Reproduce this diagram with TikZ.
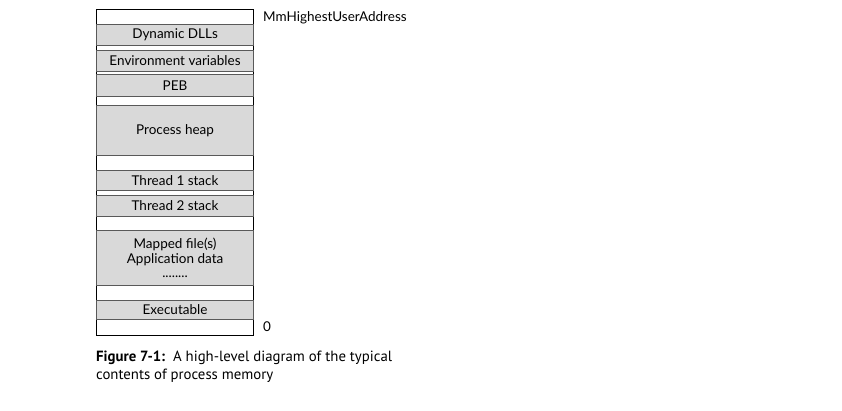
\documentclass[tikz,border=0pt]{standalone}
\usepackage{fontspec}
\usepackage{tikz}
\usetikzlibrary{positioning}
\setmainfont{Lato}
\newfontfamily\capfont{PT Sans}

\begin{document}
\begin{tikzpicture}[x=1pt, y=-1pt,
    space/.style={rectangle, draw=black, line width=0.9pt, minimum width=157pt, inner sep=0pt, anchor=north west},
    region/.style={rectangle, draw=black!65, line width=1.1pt, fill=black!15, minimum width=157pt, inner sep=0pt, align=center, anchor=north west, font=\fontsize{13.5pt}{14.5pt}\selectfont},
    addr/.style={anchor=west, inner sep=0pt, font=\fontsize{13.5pt}{15pt}\selectfont}
]
    \useasboundingbox (0,0) rectangle (842,411);
    \node[space, minimum height=326pt] (vspace) at (96,9) {};

    \node[region, minimum height=21pt] (dlls) at (96,24) {Dynamic DLLs};
    \node[region, minimum height=21pt] (env) at (96,50) {Environment variables};
    \node[region, minimum height=22pt] (peb) at (96,74) {PEB};
    \node[region, minimum height=50pt] (heap) at (96,105) {Process heap};
    \node[region, minimum height=20pt] (stack1) at (96,170) {Thread 1 stack};
    \node[region, minimum height=21pt] (stack2) at (96,195) {Thread 2 stack};
    \node[region, minimum height=55pt] (mapped) at (96,230) {Mapped file(s)\\Application data\\........};
    \node[region, minimum height=19pt] (exe) at (96,300) {Executable};

    \node[addr] (top) at (263,17.5) {MmHighestUserAddress};
    \node[addr] (bottom) at (263,327) {0};

    \node[anchor=north west, inner sep=0pt, align=left, font=\capfont\fontsize{14.8pt}{17.5pt}\selectfont] (caption) at (96,351)
        {\textbf{Figure 7-1:}\ \ A high-level diagram of the typical\\contents of process memory};
\end{tikzpicture}
\end{document}
